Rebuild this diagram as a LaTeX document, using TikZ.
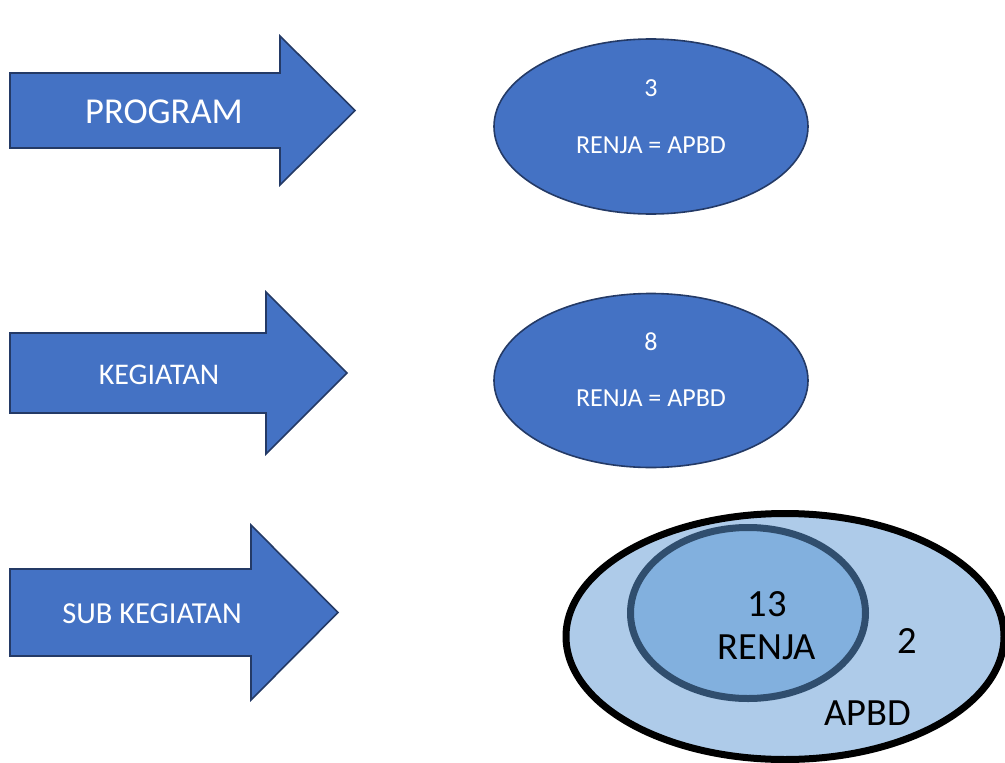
\documentclass[tikz,border=0pt]{standalone}
\usepackage{fontspec}
\setmainfont{Carlito}
\begin{document}
\definecolor{accent}{RGB}{68,114,196}
\definecolor{accentline}{RGB}{36,58,102}
\definecolor{outerfill}{RGB}{174,203,233}
\definecolor{innerfill}{RGB}{130,176,222}
\definecolor{innerline}{RGB}{48,78,110}
\begin{tikzpicture}[x=1pt,y=-1pt,
  blockarrow/.style={fill=accent,draw=accentline,line width=1.6pt,line join=miter},
  bluecloud/.style={fill=accent,draw=accentline,line width=1.6pt},
  lbl/.style={text=white,inner sep=0pt,anchor=center},
  darklbl/.style={text=black,inner sep=0pt,anchor=center,font=\fontsize{38.5}{40}\selectfont}]
\useasboundingbox (0,0) rectangle (1005,763);
\clip (0,0) rectangle (1005,763);

% level arrows
\draw[blockarrow] (10,73) -- (280,73) -- (280,36) -- (355,110.5) -- (280,185) -- (280,148) -- (10,148) -- cycle;
\draw[blockarrow] (10,333) -- (266,333) -- (266,292) -- (347,373) -- (266,454) -- (266,413) -- (10,413) -- cycle;
\draw[blockarrow] (10,569) -- (251,569) -- (251,525) -- (338,612.5) -- (251,700) -- (251,656) -- (10,656) -- cycle;

\node[lbl,font=\fontsize{36.5}{38}\selectfont] (program) at (164,112) {PROGRAM};
\node[lbl,font=\fontsize{30}{32}\selectfont] (kegiatan) at (159,375) {KEGIATAN};
\node[lbl,font=\fontsize{30.5}{32}\selectfont] (subkeg) at (152,614) {SUB KEGIATAN};

% program / kegiatan ellipses
\draw[bluecloud] (651,126.5) ellipse [x radius=157, y radius=87.5];
\node[lbl,font=\fontsize{26}{28}\selectfont] (p3) at (651,88) {3};
\node[lbl,font=\fontsize{26}{28}\selectfont] (p3r) at (651,145) {RENJA = APBD};

\draw[bluecloud] (651,380.5) ellipse [x radius=157, y radius=87];
\node[lbl,font=\fontsize{26}{28}\selectfont] (k8) at (651,342) {8};
\node[lbl,font=\fontsize{26}{28}\selectfont] (k8r) at (651,398) {RENJA = APBD};

% sub kegiatan: APBD set containing RENJA set
\draw[fill=outerfill,draw=black,line width=7pt] (785,636.5) ellipse [x radius=219, y radius=123];
\draw[fill=innerfill,draw=innerline,line width=7pt] (748,613) ellipse [x radius=117.5, y radius=85.5];
\node[darklbl] (s13) at (767,604) {13};
\node[darklbl] (srenja) at (767,647) {RENJA};
\node[darklbl] (s2) at (907,641) {2};
\node[darklbl] (sapbd) at (868,713) {APBD};
\end{tikzpicture}
\end{document}
